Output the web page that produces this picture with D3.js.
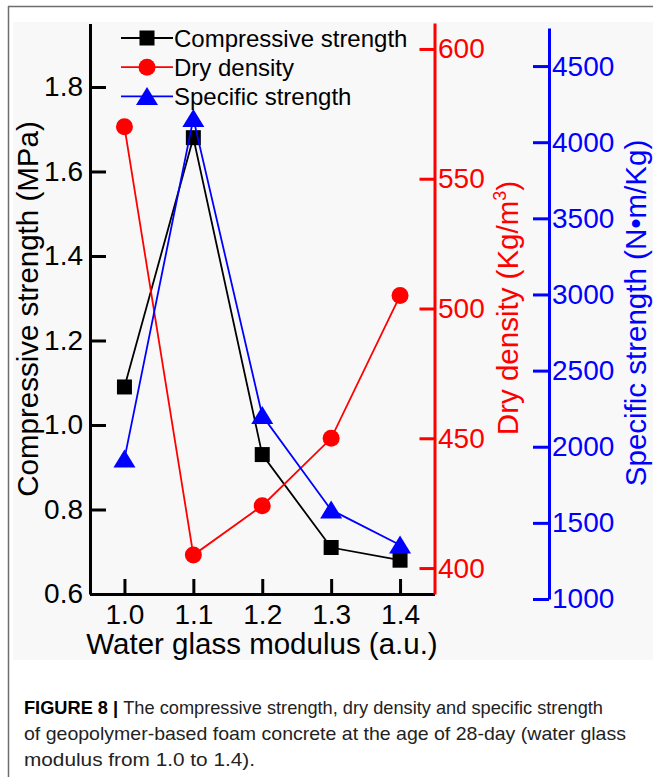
<!DOCTYPE html>
<html>
<head>
<meta charset="utf-8">
<script src="https://cdn.jsdelivr.net/npm/d3@7"></script>
<style>
  html, body { margin: 0; padding: 0; background: #fff; }
  svg { display: block; }
  text { font-family: "Liberation Sans", Arial, sans-serif; }
</style>
</head>
<body>
<svg id="fig" width="653" height="777"></svg>
<script>
// Water glass modulus (a.u.)
const modulus = [1.0, 1.1, 1.2, 1.3, 1.4];
// Compressive strength (MPa)
const compressive = [1.09, 1.68, 0.93, 0.71, 0.68];
// Dry density (Kg/m3)
const dryDensity = [570, 405, 424, 450, 505];
// Specific strength (N·m/Kg)
const specific = [1920, 4155, 2205, 1585, 1355];

const xTicks = [1.0, 1.1, 1.2, 1.3, 1.4];
const leftTicks = [0.6, 0.8, 1.0, 1.2, 1.4, 1.6, 1.8];
const redTicks = [400, 450, 500, 550, 600];
const blueTicks = [1000, 1500, 2000, 2500, 3000, 3500, 4000, 4500];

const legendLabels = ["Compressive strength", "Dry density", "Specific strength"];
const captionLines = [
  ["FIGURE 8 | ", "The compressive strength, dry density and specific strength"],
  ["", "of geopolymer-based foam concrete at the age of 28-day (water glass"],
  ["", "modulus from 1.0 to 1.4)."]
];

const svg = d3.select("#fig");

// frame and panel background
svg.append("rect").attr("x", 13).attr("y", 22).attr("width", 640).attr("height", 638).attr("fill", "#f8f8f8");
svg.append("line").attr("x1", 8).attr("x2", 653).attr("y1", 6.5).attr("y2", 6.5).attr("stroke", "#6e6e6e").attr("stroke-width", 1.5);
svg.append("line").attr("x1", 8.5).attr("x2", 8.5).attr("y1", 6).attr("y2", 777).attr("stroke", "#6e6e6e").attr("stroke-width", 1.5);

// scales
const x = d3.scaleLinear().domain([0.95, 1.45]).range([90, 434.5]);
const yL = d3.scaleLinear().domain([0.6, 1.95]).range([594, 23.6]);
const yR = d3.scaleLinear().domain([390, 610]).range([594, 23]);
const yB = d3.scaleLinear().domain([1000, 4750]).range([599, 28]);

const tickFont = 28;

function styleAxis(g, color) {
  g.selectAll(".domain").attr("stroke", color).attr("stroke-width", 3);
  g.selectAll(".tick line").attr("stroke", color).attr("stroke-width", 3);
  g.selectAll(".tick text").attr("fill", color).style("font-size", tickFont + "px")
    .style("font-family", '"Liberation Sans", Arial, sans-serif');
}

// bottom axis
const gx = svg.append("g").attr("transform", "translate(0,594)")
  .call(d3.axisBottom(x).tickValues(xTicks).tickFormat(d3.format(".1f")).tickSizeInner(-15).tickSizeOuter(0).tickPadding(10));
styleAxis(gx, "#000");

// left axis
const gl = svg.append("g").attr("transform", "translate(90,0)")
  .call(d3.axisLeft(yL).tickValues(leftTicks).tickFormat(d3.format(".1f")).tickSizeInner(-16).tickSizeOuter(0).tickPadding(7));
styleAxis(gl, "#000");

// right red axis
const gr = svg.append("g").attr("transform", "translate(434.5,0)")
  .call(d3.axisRight(yR).tickValues(redTicks).tickFormat(d3.format("d")).tickSizeInner(-15).tickSizeOuter(0).tickPadding(3.5));
styleAxis(gr, "#ff0000");

// offset blue axis
const gb = svg.append("g").attr("transform", "translate(549,0)")
  .call(d3.axisRight(yB).tickValues(blueTicks).tickFormat(d3.format("d")).tickSizeInner(-16).tickSizeOuter(0).tickPadding(3));
styleAxis(gb, "#0000ff");

// axis titles
const titleFont = 29.5;
svg.append("text").attr("transform", "translate(38,309) rotate(-90)")
  .attr("text-anchor", "middle").style("font-size", titleFont + "px").attr("fill", "#000")
  .text("Compressive strength (MPa)");
svg.append("text").attr("x", 262).attr("y", 654)
  .attr("text-anchor", "middle").style("font-size", titleFont + "px").attr("fill", "#000")
  .text("Water glass modulus (a.u.)");
const rt = svg.append("text").attr("transform", "translate(518,308) rotate(-90)")
  .attr("text-anchor", "middle").style("font-size", titleFont + "px").attr("fill", "#ff0000");
rt.append("tspan").text("Dry density (Kg/m");
rt.append("tspan").attr("dy", -12).style("font-size", "18px").text("3");
rt.append("tspan").attr("dy", 12).text(")");
svg.append("text").attr("transform", "translate(646,313) rotate(-90)")
  .attr("text-anchor", "middle").style("font-size", titleFont + "px").attr("fill", "#0000ff")
  .text("Specific strength (N\u2022m/Kg)");

// marker shapes
const squarePath = d3.symbol().type(d3.symbolSquare).size(225)();
const circlePath = d3.symbol().type(d3.symbolCircle).size(227)();
const trianglePath = "M0,-9.5L11,8.5L-11,8.5Z";

const series = [
  { values: compressive, y: yL, color: "#000000", shape: squarePath },
  { values: dryDensity, y: yR, color: "#ff0000", shape: circlePath },
  { values: specific, y: yB, color: "#0000ff", shape: trianglePath }
];

series.forEach(s => {
  const pts = modulus.map((m, i) => [x(m), s.y(s.values[i])]);
  svg.append("path").attr("d", d3.line()(pts)).attr("fill", "none")
    .attr("stroke", s.color).attr("stroke-width", 1.8);
  svg.append("g").selectAll("path").data(pts).join("path")
    .attr("d", s.shape).attr("transform", d => `translate(${d[0]},${d[1]})`)
    .attr("fill", s.color);
});

// legend
const legend = svg.append("g");
series.forEach((s, i) => {
  const cy = 38 + i * 29.2;
  legend.append("line").attr("x1", 121).attr("x2", 173).attr("y1", cy).attr("y2", cy)
    .attr("stroke", s.color).attr("stroke-width", 1.8);
  legend.append("path").attr("d", s.shape).attr("transform", `translate(147,${cy})`).attr("fill", s.color);
  legend.append("text").attr("x", 174).attr("y", cy + 8.5).style("font-size", "24px").attr("fill", "#000")
    .text(legendLabels[i]);
});

// caption
const capWidths = [579, 602, 231];
captionLines.forEach((ln, i) => {
  const t = svg.append("text").attr("x", 24).attr("y", 714 + i * 26)
    .style("font-family", '"Liberation Sans Narrow", "Arial Narrow", "Liberation Sans", sans-serif')
    .style("font-size", "18.5px").attr("fill", "#222")
    .attr("textLength", capWidths[i]).attr("lengthAdjust", "spacingAndGlyphs");
  if (ln[0]) t.append("tspan").style("font-weight", "bold").attr("fill", "#000").text(ln[0]);
  t.append("tspan").text(ln[1]);
});
</script>
</body>
</html>
